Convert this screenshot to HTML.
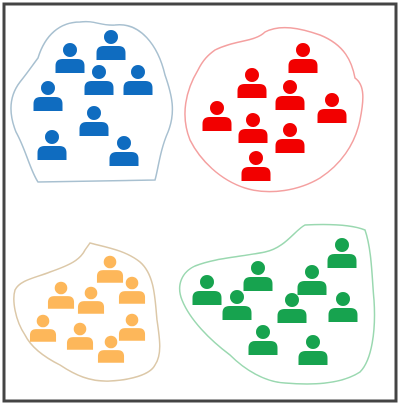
<!DOCTYPE html>
<html><head><meta charset="utf-8"><style>
html,body{margin:0;padding:0;background:#fff;width:402px;height:409px;overflow:hidden}
</style></head><body>
<svg id="fig" width="402" height="409" viewBox="0 0 402 409" xmlns="http://www.w3.org/2000/svg">
<rect x="0" y="0" width="402" height="409" fill="#fff"/>
<rect x="4" y="4" width="392" height="397" fill="none" stroke="#444" stroke-width="3"/>
<path fill="none" stroke="#a8c0d0" stroke-width="1.5" d="M38,58 C45,35 60,22 80,22 C95,20 100,26 115,25 C140,22 158,45 165,75 C172,95 176,112 168,132 C160,150 158,170 155,180 L38,182 C30,170 26,150 16,132 C8,112 10,95 20,82 C28,72 32,66 38,58 Z"/>
<path fill="none" stroke="#f4a0a0" stroke-width="1.5" d="M215,50 C235,40 255,42 265,32 C280,24 300,28 320,35 C345,45 352,62 355,78 C365,85 364,100 360,120 C355,145 340,165 320,178 C300,190 270,196 245,188 C220,180 200,160 190,140 C180,115 186,90 198,70 C203,60 208,55 215,50 Z"/>
<path fill="none" stroke="#dcc8a8" stroke-width="1.5" d="M90,243 C105,247 125,250 140,262 C155,275 155,300 157,320 C160,340 162,355 155,365 C150,375 130,380 110,381 C90,382 75,375 60,365 C40,355 30,345 25,335 C15,320 12,300 15,290 C20,280 35,278 50,272 C70,265 80,260 85,250 Z"/>
<path fill="none" stroke="#9ad8b0" stroke-width="1.5" d="M305,225 C325,224 350,224 365,230 C372,250 372,280 374,300 C376,330 372,360 360,372 C340,385 310,385 285,383 C265,382 245,370 230,355 C210,340 190,320 182,300 C176,285 182,272 195,266 C215,258 240,257 265,252 C285,248 295,230 305,225 Z"/>
<g id="icons"></g>
</svg>
<script>
const blueX=[70,111,99,138,48,94,52,124];
const blueY=[50,37,72,72,88,113,137,143];
const redX=[303,252,290,332,217,253,290,256];
const redY=[50,75,87,100,108,120,130,158];
const orangeX=[110,61,132,91,43,80,132,111];
const orangeY=[262,288,283,293,321,329,320,342];
const greenX=[342,258,312,207,237,292,343,263,313];
const greenY=[245,268,272,282,297,300,299,332,342];
const NS='http://www.w3.org/2000/svg';
const g=document.getElementById('icons');
function person(cx,cy,s,color,name){
  const grp=document.createElementNS(NS,'g');
  
  
  const c=document.createElementNS(NS,'circle');
  c.setAttribute('cx',cx);c.setAttribute('cy',cy);c.setAttribute('r',7*s);c.setAttribute('fill',color);
  const w=29*s,h=14*s,top=cy+9*s,l=cx-w/2,rr=7*s;
  const p=document.createElementNS(NS,'path');
  p.setAttribute('d',`M${l},${top+h} L${l},${top+rr} Q${l},${top} ${l+rr},${top} L${l+w-rr},${top} Q${l+w},${top} ${l+w},${top+rr} L${l+w},${top+h} Z`);
  p.setAttribute('fill',color);
  grp.appendChild(c);grp.appendChild(p);g.appendChild(grp);
}
blueX.forEach((x,i)=>person(x,blueY[i],1,'#0f6cc0','blue-person'));
redX.forEach((x,i)=>person(x,redY[i],1,'#f20000','red-person'));
orangeX.forEach((x,i)=>person(x,orangeY[i],0.9,'#fdb75a','orange-person'));
greenX.forEach((x,i)=>person(x,greenY[i],1,'#17a34f','green-person'));
</script>
</body></html>
